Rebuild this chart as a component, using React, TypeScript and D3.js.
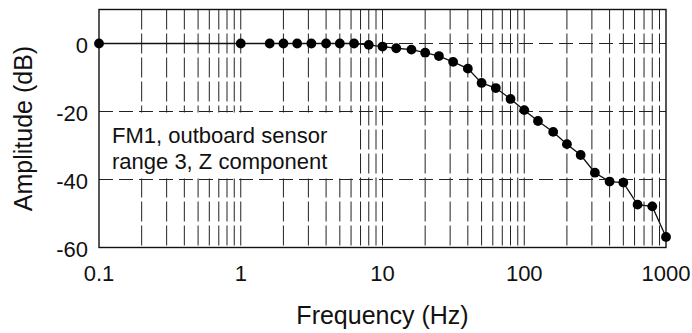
import React from "react";
import * as d3 from "d3";

const freqs = [0.1, 1, 1.6, 2, 2.5, 3.15, 4, 5, 6.3, 8, 10, 12.5, 16, 20, 25, 31.5, 40, 50, 63, 80, 100, 125, 160, 200, 250, 315, 400, 500, 630, 800, 1000];
const amps = [0, 0, 0, 0, 0, 0, 0, 0, 0, -0.4, -0.9, -1.4, -1.8, -2.7, -3.7, -5.4, -7.4, -11.6, -13.1, -16.3, -19.6, -22.8, -26, -29.6, -32.8, -38, -40.6, -40.9, -47.4, -47.9, -56.9];
const xTicks = [0.1, 1, 10, 100, 1000];
const xTickLabels = ["0.1", "1", "10", "100", "1000"];
const yTicks = [0, -20, -40, -60];
const yTickLabels = ["0", "-20", "-40", "-60"];
const annotation = ["FM1, outboard sensor", "range 3, Z component"];
const xTitle = "Frequency (Hz)";
const yTitle = "Amplitude (dB)";

const W = 692, H = 333;
const L = 99, R = 666, T = 9.5, B = 247.5;
const FONT = "'Liberation Sans', Arial, Helvetica, sans-serif";

export default function App() {
  const x = d3.scaleLog().domain([0.1, 1000]).range([L, R]);
  const y = d3.scaleLinear().domain([-60, 10]).range([B, T]);

  const minor: number[] = [];
  for (let dec = 0.1; dec < 1000; dec *= 10) {
    for (let k = 1; k <= 9; k++) {
      const v = +(dec * k).toPrecision(3);
      if (v > 0.1 && v < 1000) minor.push(v);
    }
  }
  const pts = freqs.map((f, i) => [x(f), y(amps[i])] as [number, number]);
  const line = d3.line()(pts) || "";
  const gridColor = "#222";

  return (
    <svg width={W} height={H} style={{ position: "absolute", left: 0, top: 0, background: "#fff" }} fontFamily={FONT}>
      <rect x={0} y={0} width={W} height={H} fill="#fff" />
      {minor.map((v, i) => (
        <line key={"v" + i} x1={x(v)} x2={x(v)} y1={T} y2={B} stroke={gridColor} strokeWidth={1} strokeDasharray="20,4" />
      ))}
      <rect x={L + 0.5} y={y(-20) + 1} width={356 - L} height={y(-40) - y(-20) - 2} fill="#fff" />
      {yTicks.slice(0, 3).map((v, i) => (
        <line key={"h" + i} x1={L} x2={R} y1={y(v)} y2={y(v)} stroke={gridColor} strokeWidth={1} strokeDasharray="14,6" />
      ))}
      <rect x={L} y={T} width={R - L} height={B - T} fill="none" stroke="#111" strokeWidth={1.4} />
      <path d={line} fill="none" stroke="#111" strokeWidth={1.3} />
      {pts.map((p, i) => (
        <circle key={"c" + i} cx={p[0]} cy={p[1]} r={4.9} fill="#000" />
      ))}
      {annotation.map((t, i) => (
        <text key={"a" + i} x={112} y={143 + i * 26} fontSize={22} fill="#111">{t}</text>
      ))}
      {xTicks.map((v, i) => (
        <text key={"xt" + i} x={x(v)} y={281} fontSize={22} textAnchor="middle" fill="#111">{xTickLabels[i]}</text>
      ))}
      {yTicks.map((v, i) => (
        <text key={"yt" + i} x={88} y={y(v) + 9} fontSize={22} textAnchor="end" fill="#111">{yTickLabels[i]}</text>
      ))}
      <text x={(L + R) / 2} y={324} fontSize={25} textAnchor="middle" fill="#111">{xTitle}</text>
      <text transform={`translate(32, ${(T + B) / 2}) rotate(-90)`} fontSize={25} textAnchor="middle" fill="#111">{yTitle}</text>
    </svg>
  );
}
